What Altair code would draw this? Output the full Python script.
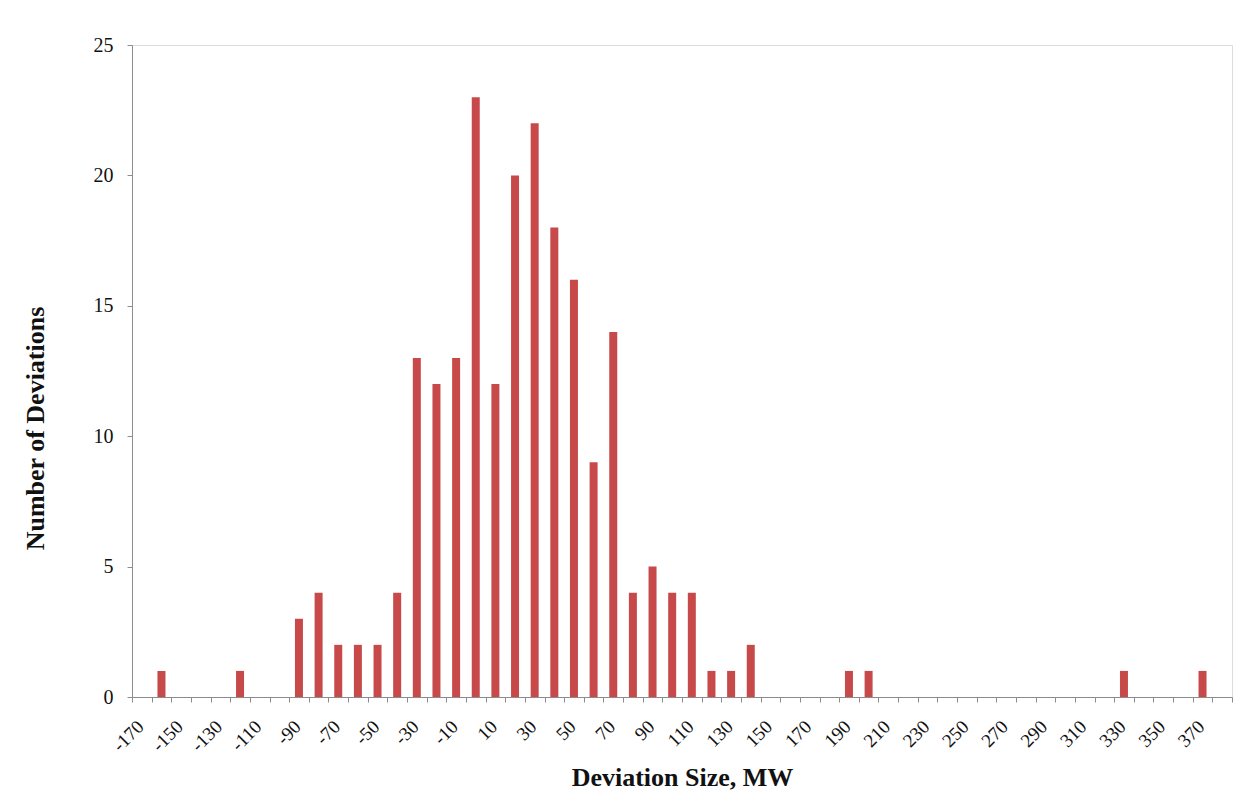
import altair as alt
import pandas as pd

bins = list(range(-170, 390, 10))
nonzero = {
    -160: 1, -120: 1, -90: 3, -80: 4, -70: 2, -60: 2, -50: 2, -40: 4,
    -30: 13, -20: 12, -10: 13, 0: 23, 10: 12, 20: 20, 30: 22, 40: 18,
    50: 16, 60: 9, 70: 14, 80: 4, 90: 5, 100: 4, 110: 4, 120: 1,
    130: 1, 140: 2, 190: 1, 200: 1, 330: 1, 370: 1,
}
counts = [nonzero.get(b, 0) for b in bins]
y_ticks = [0, 5, 10, 15, 20, 25]

df = pd.DataFrame({"bin": bins, "count": counts})

FONT = "Liberation Serif"

chart = alt.Chart(df).mark_bar(size=8, color="#C8494A").encode(
    x=alt.X(
        "bin:O",
        sort=bins,
        scale=alt.Scale(domain=bins, paddingInner=0, paddingOuter=0),
        axis=alt.Axis(
            title="Deviation Size, MW",
            labelAngle=-45,
            labelExpr="((datum.value + 170) % 20 == 0) ? datum.label : ''",
            tickBand="extent",
            tickSize=5,
            labelPadding=15,
            labelOffset=-8,
            labelFontSize=19,
            labelFont=FONT,
            labelColor="#111111",
            labelOverlap=False,
            domainColor="#8c8c8c",
            tickColor="#8c8c8c",
            titleFont=FONT,
            titleFontSize=26,
            titleFontWeight="bold",
            titleColor="#111111",
            titleY=88,
            titleBaseline="alphabetic",
        ),
    ),
    y=alt.Y(
        "count:Q",
        scale=alt.Scale(domain=[0, 25], nice=False),
        axis=alt.Axis(
            title="Number of Deviations",
            values=y_ticks,
            grid=False,
            tickSize=5,
            labelPadding=14,
            labelFontSize=20,
            labelFont=FONT,
            labelColor="#111111",
            domainColor="#8c8c8c",
            tickColor="#8c8c8c",
            titleFont=FONT,
            titleFontSize=26,
            titleFontWeight="bold",
            titleColor="#111111",
            titleX=-89,
            titleY=383,
            titleBaseline="alphabetic",
        ),
    ),
).properties(
    width=1100,
    height=652,
    autosize=alt.AutoSizeParams(type="none"),
    padding={"left": 124, "top": 37, "right": 10, "bottom": 100},
).configure_view(stroke=None).configure(background="white")

chart.save("out.html", embed_options={"renderer": "svg", "actions": False})
